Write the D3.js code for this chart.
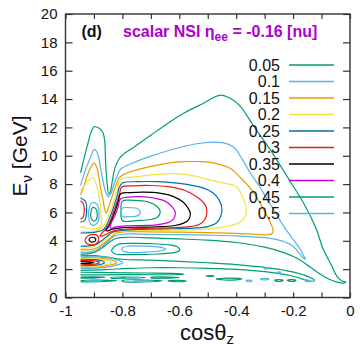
<!DOCTYPE html>
<html><head><meta charset="utf-8">
<script src="https://cdn.jsdelivr.net/npm/d3@7"></script>
<style>body{margin:0;background:#fff}svg{display:block}text{font-family:"Liberation Sans",Arial,sans-serif}</style>
</head><body><svg id="chart" width="360" height="349"></svg>
<script>
// ---------- data ----------
const levels = [0.05, 0.1, 0.15, 0.2, 0.25, 0.3, 0.35, 0.4, 0.45, 0.5];
const levelLabels = ["0.05","0.1","0.15","0.2","0.25","0.3","0.35","0.4","0.45","0.5"];
const levelColors = ["#009e73","#56b4e9","#e69f00","#f0e442","#0072b2","#e51e10","#000000","#cc00dd","#009e73","#56b4e9"];
const xTicks = [-1,-0.9,-0.8,-0.7,-0.6,-0.5,-0.4,-0.3,-0.2,-0.1,0];
const xTickLabels = {"-1":"-1","-0.8":"-0.8","-0.6":"-0.6","-0.4":"-0.4","-0.2":"-0.2","0":"0"};
const yTicks = [0,2,4,6,8,10,12,14,16,18,20];

// contour lines, [cos(theta_z), E (GeV)]
const c005 = [
 [[-0.947,8.8],[-0.935,9.8],[-0.922,10.8],[-0.911,11.6],[-0.899,12.05],[-0.883,11.95],[-0.868,11.6],[-0.862,11.0],[-0.86,10.0],[-0.857,8.9],[-0.853,7.9],[-0.848,7.3],[-0.843,7.4],[-0.838,7.9],[-0.833,8.5],[-0.826,9.15],[-0.814,9.7],[-0.8,10.05],[-0.76,10.6],[-0.70,11.45],[-0.64,12.3],[-0.58,13.05],[-0.52,13.65],[-0.456,14.28],[-0.421,14.05],[-0.386,13.5],[-0.339,12.1],[-0.281,10.45],[-0.222,8.56],[-0.164,6.69],[-0.12,4.9],[-0.094,3.4],[-0.064,2.23],[-0.047,1.52],[-0.03,1.18],[-0.015,1.08],[-0.025,1.02],[-0.045,1.08],[-0.075,1.3],[-0.105,1.65],[-0.14,2.15],[-0.18,2.7],[-0.23,3.15],[-0.3,3.55],[-0.4,3.88],[-0.5,4.05],[-0.6,4.13],[-0.7,4.2],[-0.78,4.25],[-0.82,4.18],[-0.845,3.92],[-0.868,3.55],[-0.895,3.22],[-0.925,3.08],[-0.947,3.06]],
 [[-0.83,3.55],[-0.815,3.75],[-0.77,3.82],[-0.7,3.8],[-0.64,3.72],[-0.605,3.55],[-0.598,3.35],[-0.615,3.18],[-0.68,3.07],[-0.77,3.03],[-0.825,3.07],[-0.838,3.3],[-0.83,3.55]],
 [[-0.947,2.98],[-0.9,2.95],[-0.86,2.86],[-0.8,2.7],[-0.7,2.63],[-0.6,2.55],[-0.5,2.45],[-0.4,2.32],[-0.3,2.12],[-0.22,1.88],[-0.16,1.58],[-0.125,1.2],[-0.14,1.15],[-0.2,1.5],[-0.3,1.82],[-0.4,1.98],[-0.5,2.06],[-0.6,2.1],[-0.7,2.1],[-0.78,2.05],[-0.86,1.97],[-0.947,1.92]],
 [[-0.905,6.35],[-0.893,6.25],[-0.888,5.85],[-0.892,5.5],[-0.902,5.4],[-0.911,5.7],[-0.91,6.1],[-0.905,6.35]],
 [[-0.947,1.78],[-0.85,1.76],[-0.72,1.73],[-0.6,1.69],[-0.585,1.65],[-0.62,1.61],[-0.75,1.61],[-0.88,1.6],[-0.947,1.59]],
 [[-0.947,1.44],[-0.9,1.45],[-0.86,1.42],[-0.9,1.37],[-0.947,1.36]],
 [[-0.84,1.41],[-0.78,1.44],[-0.72,1.41],[-0.78,1.37],[-0.84,1.37],[-0.84,1.41]],
 [[-0.7,1.42],[-0.63,1.44],[-0.6,1.41],[-0.64,1.37],[-0.7,1.38],[-0.7,1.42]],
 [[-0.947,1.2],[-0.88,1.23],[-0.82,1.2],[-0.88,1.12],[-0.947,1.1]],
 [[-0.8,1.2],[-0.72,1.23],[-0.66,1.18],[-0.72,1.11],[-0.8,1.13],[-0.8,1.2]],
 [[-0.64,1.18],[-0.6,1.21],[-0.575,1.16],[-0.61,1.11],[-0.64,1.18]],
 [[-0.505,1.52],[-0.49,1.55],[-0.478,1.52],[-0.49,1.49],[-0.505,1.52]],
 [[-0.47,1.3],[-0.43,1.36],[-0.38,1.3],[-0.43,1.22],[-0.47,1.3]],
 [[-0.265,1.2],[-0.25,1.26],[-0.235,1.2],[-0.25,1.13],[-0.265,1.2]],
 [[-0.22,1.2],[-0.205,1.26],[-0.19,1.2],[-0.205,1.13],[-0.22,1.2]]
];
const c010 = [
 [[-0.947,7.9],[-0.935,8.7],[-0.923,9.35],[-0.91,10.0],[-0.899,10.45],[-0.888,10.2],[-0.876,9.03],[-0.866,8.0],[-0.858,7.4],[-0.849,7.12],[-0.84,7.35],[-0.83,7.95],[-0.82,8.5],[-0.81,8.95],[-0.8,9.15],[-0.75,9.6],[-0.70,9.97],[-0.64,10.35],[-0.585,10.65],[-0.52,10.9],[-0.45,10.92],[-0.409,10.6],[-0.38,9.8],[-0.351,8.8],[-0.32,7.9],[-0.292,6.95],[-0.262,6.0],[-0.234,5.05],[-0.2,4.1],[-0.175,3.4],[-0.162,2.9],[-0.156,2.72],[-0.166,2.8],[-0.185,3.3],[-0.21,3.75],[-0.25,4.05],[-0.3,4.22],[-0.4,4.35],[-0.5,4.4],[-0.6,4.43],[-0.7,4.46],[-0.79,4.47],[-0.825,4.36],[-0.848,4.02],[-0.87,3.62],[-0.895,3.33],[-0.92,3.2],[-0.947,3.18]],
 [[-0.905,6.7],[-0.888,6.55],[-0.882,6.0],[-0.885,5.4],[-0.896,5.12],[-0.91,5.15],[-0.918,5.6],[-0.917,6.3],[-0.905,6.7]],
 [[-0.8,3.5],[-0.78,3.62],[-0.72,3.62],[-0.67,3.55],[-0.648,3.42],[-0.665,3.3],[-0.72,3.2],[-0.78,3.18],[-0.8,3.3],[-0.8,3.5]],
 [[-0.947,2.91],[-0.88,2.86],[-0.83,2.73],[-0.805,2.55],[-0.798,2.45],[-0.81,2.35],[-0.86,2.12],[-0.947,2.03]],
 [[-0.93,1.2],[-0.9,1.23],[-0.87,1.18],[-0.9,1.13],[-0.93,1.2]],
 [[-0.79,1.4],[-0.76,1.43],[-0.735,1.4],[-0.76,1.36],[-0.79,1.4]],
 [[-0.76,1.15],[-0.72,1.18],[-0.69,1.15],[-0.72,1.11],[-0.76,1.15]],
 [[-0.365,1.17],[-0.355,1.23],[-0.345,1.17],[-0.355,1.11],[-0.365,1.17]],
 [[-0.315,1.3],[-0.3,1.35],[-0.285,1.3],[-0.3,1.24],[-0.315,1.3]],
 [[-0.256,1.77],[-0.25,1.81],[-0.244,1.77],[-0.25,1.73],[-0.256,1.77]],
 [[-0.302,2.05],[-0.296,2.09],[-0.29,2.05],[-0.296,2.01],[-0.302,2.05]],
 [[-0.157,1.17],[-0.15,1.22],[-0.143,1.17],[-0.15,1.12],[-0.157,1.17]]
];
const c015 = [
 [[-0.947,7.25],[-0.935,7.9],[-0.922,8.7],[-0.911,9.2],[-0.899,9.5],[-0.888,9.05],[-0.876,7.63],[-0.868,6.9],[-0.864,6.4],[-0.857,5.95],[-0.85,6.3],[-0.838,7.0],[-0.825,7.8],[-0.812,8.4],[-0.801,8.62],[-0.76,8.95],[-0.70,9.25],[-0.64,9.48],[-0.58,9.58],[-0.52,9.58],[-0.47,9.45],[-0.42,9.1],[-0.385,8.45],[-0.35,7.7],[-0.32,6.8],[-0.295,5.9],[-0.278,5.2],[-0.27,4.75],[-0.275,4.5],[-0.29,4.43],[-0.33,4.45],[-0.4,4.52],[-0.5,4.58],[-0.6,4.61],[-0.7,4.63],[-0.79,4.64],[-0.82,4.55],[-0.84,4.25],[-0.86,3.9],[-0.885,3.55],[-0.915,3.38],[-0.947,3.36]],
 [[-0.947,2.84],[-0.9,2.8],[-0.85,2.7],[-0.825,2.55],[-0.82,2.45],[-0.83,2.36],[-0.88,2.17],[-0.947,2.1]]
];
const c020 = [
 [[-0.947,7.55],[-0.928,8.05],[-0.915,8.35],[-0.903,8.45],[-0.894,8.1],[-0.886,7.55],[-0.882,7.15],[-0.878,6.6],[-0.876,6.2],[-0.874,5.6],[-0.874,5.2],[-0.882,4.92],[-0.905,4.82],[-0.93,4.9],[-0.947,5.02]],
 [[-0.947,3.48],[-0.915,3.52],[-0.888,3.68],[-0.865,4.02],[-0.845,4.35],[-0.825,4.62],[-0.79,4.71],[-0.7,4.72],[-0.6,4.76],[-0.503,4.82],[-0.444,4.98],[-0.39,5.28],[-0.372,5.6],[-0.365,6.0],[-0.368,6.6],[-0.38,7.2],[-0.398,7.8],[-0.45,8.1],[-0.5,8.33],[-0.54,8.55],[-0.6,8.72],[-0.67,8.7],[-0.74,8.55],[-0.807,8.3],[-0.818,7.6],[-0.83,6.8],[-0.842,6.1],[-0.852,5.6],[-0.862,5.2],[-0.875,4.9],[-0.895,4.68],[-0.92,4.64],[-0.947,4.64]],
 [[-0.947,2.77],[-0.9,2.74],[-0.86,2.64],[-0.84,2.52],[-0.837,2.45],[-0.85,2.36],[-0.895,2.2],[-0.947,2.17]]
];
const c025 = [
 [[-0.947,3.63],[-0.92,3.64],[-0.893,3.75],[-0.873,4.0],[-0.855,4.3],[-0.835,4.6],[-0.81,4.72],[-0.75,4.8],[-0.65,4.84],[-0.55,4.9],[-0.5,5.0],[-0.47,5.25],[-0.455,5.7],[-0.45,6.2],[-0.458,6.8],[-0.48,7.35],[-0.52,7.75],[-0.6,8.05],[-0.68,8.17],[-0.75,8.17],[-0.80,8.08],[-0.812,7.7],[-0.818,7.2],[-0.829,6.5],[-0.839,5.9],[-0.849,5.4],[-0.858,5.0],[-0.872,4.72],[-0.9,4.6],[-0.925,4.56],[-0.947,4.55]],
 [[-0.947,5.3],[-0.932,5.45],[-0.926,6.1],[-0.929,6.75],[-0.947,7.02]],
 [[-0.947,2.7],[-0.9,2.67],[-0.87,2.57],[-0.863,2.46],[-0.872,2.36],[-0.905,2.26],[-0.947,2.24]]
];
const c030 = [
 [[-0.803,7.78],[-0.76,7.88],[-0.70,7.9],[-0.64,7.82],[-0.58,7.55],[-0.535,7.05],[-0.508,6.5],[-0.503,6.0],[-0.51,5.5],[-0.53,5.15],[-0.57,4.98],[-0.65,4.9],[-0.73,4.88],[-0.8,4.8],[-0.83,4.7],[-0.852,4.52],[-0.87,4.35],[-0.879,4.33],[-0.874,4.5],[-0.864,4.7],[-0.853,4.98],[-0.843,5.4],[-0.832,6.0],[-0.82,6.7],[-0.81,7.3],[-0.803,7.78]],
 [[-0.9,4.45],[-0.886,4.33],[-0.884,4.0],[-0.895,3.76],[-0.915,3.74],[-0.93,3.92],[-0.925,4.28],[-0.9,4.45]],
 [[-0.947,5.52],[-0.938,5.65],[-0.934,6.1],[-0.937,6.6],[-0.947,6.82]],
 [[-0.947,2.62],[-0.91,2.6],[-0.885,2.53],[-0.88,2.46],[-0.888,2.39],[-0.915,2.33],[-0.947,2.31]]
];
const c035 = [
 [[-0.806,7.32],[-0.77,7.4],[-0.725,7.43],[-0.67,7.36],[-0.62,7.12],[-0.585,6.7],[-0.566,6.2],[-0.561,5.9],[-0.567,5.5],[-0.585,5.25],[-0.62,5.06],[-0.68,4.99],[-0.74,4.96],[-0.8,4.93],[-0.835,4.82],[-0.852,4.7],[-0.858,4.74],[-0.852,4.9],[-0.843,5.2],[-0.833,5.7],[-0.822,6.3],[-0.813,6.9],[-0.806,7.32]],
 [[-0.906,4.25],[-0.896,4.18],[-0.894,4.03],[-0.902,3.92],[-0.914,3.96],[-0.917,4.12],[-0.906,4.25]],
 [[-0.947,2.53],[-0.92,2.52],[-0.9,2.47],[-0.92,2.41],[-0.947,2.4]]
];
const c040 = [
 [[-0.807,6.95],[-0.78,7.08],[-0.737,7.12],[-0.69,7.02],[-0.65,6.8],[-0.625,6.4],[-0.614,6.0],[-0.62,5.55],[-0.64,5.28],[-0.68,5.13],[-0.73,5.08],[-0.784,5.05],[-0.825,4.97],[-0.84,4.88],[-0.843,4.98],[-0.838,5.3],[-0.826,5.8],[-0.815,6.4],[-0.807,6.95]]
];
const c045 = [
 [[-0.80,6.8],[-0.76,6.85],[-0.71,6.75],[-0.68,6.45],[-0.667,6.05],[-0.675,5.7],[-0.7,5.5],[-0.75,5.43],[-0.80,5.42],[-0.805,6.1],[-0.80,6.8]]
];
const c050 = [
 [[-0.801,6.3],[-0.77,6.33],[-0.75,6.3],[-0.738,6.1],[-0.74,5.85],[-0.755,5.72],[-0.78,5.7],[-0.801,5.72],[-0.803,6.0],[-0.801,6.3]]
];
const contourSets = [c005, c010, c015, c020, c025, c030, c035, c040, c045, c050];

// ---------- drawing ----------
const svg = d3.select("#chart");
const L = 65.5, R = 350, T = 14, B = 297.5;
const x = d3.scaleLinear().domain([-1, 0]).range([L, R]);
const y = d3.scaleLinear().domain([0, 20]).range([B, T]);

svg.append("defs").append("clipPath").attr("id","clip")
  .append("rect").attr("x",L).attr("y",T).attr("width",R-L).attr("height",B-T);

const gC = svg.append("g").attr("clip-path","url(#clip)");
const lineOpen = d3.line().x(d=>x(d[0])).y(d=>y(d[1])).curve(d3.curveCatmullRom.alpha(0.5));
const lineClosed = d3.line().x(d=>x(d[0])).y(d=>y(d[1])).curve(d3.curveCatmullRomClosed.alpha(0.5));

contourSets.forEach((set, i) => {
  set.forEach(path => {
    const f = path[0], l = path[path.length-1];
    const closed = path.length > 3 && f[0] === l[0] && f[1] === l[1];
    gC.append("path")
      .attr("d", closed ? lineClosed(path.slice(0,-1)) : lineOpen(path))
      .attr("fill","none")
      .attr("stroke", levelColors[i])
      .attr("stroke-width", 1.2)
      .attr("stroke-linejoin","round");
  });
});

// axes
const fmtX = d => xTickLabels[String(d)] || "";
const axB = svg.append("g").attr("transform",`translate(0,${B})`)
  .call(d3.axisBottom(x).tickValues(xTicks).tickSize(-5).tickPadding(8).tickFormat(fmtX));
const axT = svg.append("g").attr("transform",`translate(0,${T})`)
  .call(d3.axisTop(x).tickValues(xTicks).tickSize(-5).tickFormat(""));
const axL = svg.append("g").attr("transform",`translate(${L},0)`)
  .call(d3.axisLeft(y).tickValues(yTicks).tickSize(-7).tickPadding(8));
const axR = svg.append("g").attr("transform",`translate(${R},0)`)
  .call(d3.axisRight(y).tickValues(yTicks).tickSize(-7).tickFormat(""));
[axB, axT, axL, axR].forEach(g => {
  g.select(".domain").remove();
  g.selectAll(".tick line").attr("stroke","#333").attr("stroke-width",1.2);
  g.selectAll(".tick text").attr("fill","#111").style("font-size","15px")
    .style("font-family",'"Liberation Sans",Arial,sans-serif');
});

svg.append("rect").attr("x",L).attr("y",T).attr("width",R-L).attr("height",B-T)
  .attr("fill","none").attr("stroke","#333").attr("stroke-width",1.4);

// legend
const legY0 = 65, legDy = 16.5;
levels.forEach((lv, i) => {
  const yy = legY0 + i*legDy;
  svg.append("text").attr("x",280).attr("y",yy+5.7).attr("text-anchor","end")
    .style("font-size","16px").attr("fill","#111").text(levelLabels[i]);
  svg.append("line").attr("x1",289).attr("x2",334).attr("y1",yy).attr("y2",yy)
    .attr("stroke",levelColors[i]).attr("stroke-width",1.6);
});

// title
svg.append("text").attr("x",81.5).attr("y",37).style("font-size","16px")
  .style("font-weight","bold").attr("fill","#111").text("(d)");
const tt = svg.append("text").attr("x",123).attr("y",37).style("font-size","16px")
  .style("font-weight","bold").attr("fill","#b000cc");
tt.append("tspan").text("scalar NSI η");
tt.append("tspan").attr("dy",4).style("font-size","12px").text("ee");
tt.append("tspan").attr("dy",-4).text(" = -0.16 [nu]");

// axis titles
const xt = svg.append("text").attr("x",207).attr("y",340).attr("text-anchor","middle")
  .style("font-size","22px").attr("fill","#111");
xt.append("tspan").text("cosθ");
xt.append("tspan").attr("dy",4).style("font-size","15px").text("z");

const yt = svg.append("text").attr("transform","translate(27,156) rotate(-90)")
  .attr("text-anchor","middle").style("font-size","21px").attr("fill","#111");
yt.append("tspan").text("E");
yt.append("tspan").attr("dy",5).style("font-size","15px").text("ν");
yt.append("tspan").attr("dy",-5).text(" [GeV]");
</script>
</body></html>
